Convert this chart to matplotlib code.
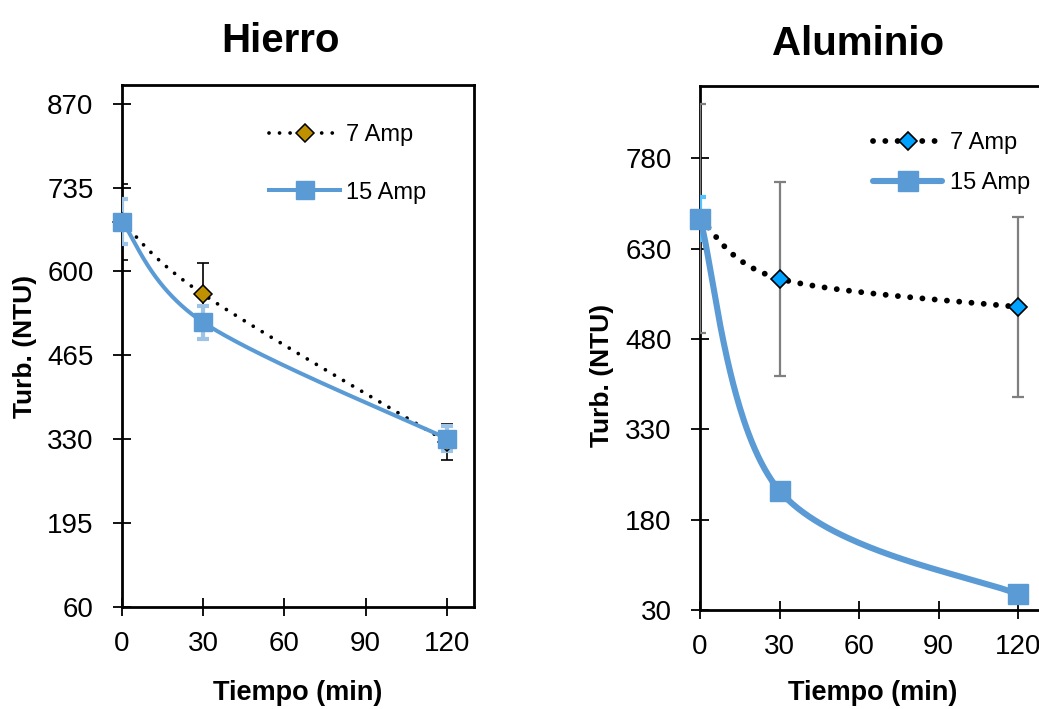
import numpy as np
import matplotlib
matplotlib.use("Agg")
import matplotlib.pyplot as plt
from matplotlib.lines import Line2D

# ---------------- data ----------------
time = [0, 30, 120]
x_ticks = [0, 30, 60, 90, 120]

fe_7 = [680, 563, 326]
fe_7_err = [61, 50, 29]
fe_15 = [680, 518, 331]
fe_15_err = [36, 27, 20]
fe_yticks = [60, 195, 330, 465, 600, 735, 870]

al_7 = [680, 580, 533]
al_7_err = [190, 161, 149]
al_15 = [680, 228, 56]
al_15_err = [36, 0, 0]
al_yticks = [30, 180, 330, 480, 630, 780]

labels = ["7 Amp", "15 Amp"]
titles = ["Hierro", "Aluminio"]
xlabel = "Tiempo (min)"
ylabel = "Turb. (NTU)"

# ---------------- style ----------------
plt.rcParams["font.family"] = ["Liberation Sans", "DejaVu Sans"]
BLUE = "#5B9BD5"

W, H = 1039, 709
fig = plt.figure(figsize=(W / 100, H / 100), dpi=100)


def px_axes(l, r, t, b):
    return fig.add_axes([l / W, 1 - b / H, (r - l) / W, (b - t) / H])


def smooth(ax, xs, ys, n=80):
    pts = ax.transData.transform(np.column_stack([xs, ys]))
    m = len(pts)
    out = []
    for i in range(m - 1):
        p0 = pts[max(i - 1, 0)]
        p1 = pts[i]
        p2 = pts[i + 1]
        p3 = pts[min(i + 2, m - 1)]
        c1 = p1 + (p2 - p0) / 6.0
        c2 = p2 - (p3 - p1) / 6.0
        t = np.linspace(0, 1, n)[:, None]
        seg = (1 - t) ** 3 * p1 + 3 * (1 - t) ** 2 * t * c1 + 3 * (1 - t) * t ** 2 * c2 + t ** 3 * p2
        out.append(seg if i == 0 else seg[1:])
    out = np.vstack(out)
    d = ax.transData.inverted().transform(out)
    return d[:, 0], d[:, 1]


def style_axes(ax, yticks, ylim):
    ax.set_xlim(0, 130)
    ax.set_ylim(*ylim)
    ax.set_xticks(x_ticks)
    ax.set_yticks(yticks)
    for s in ax.spines.values():
        s.set_linewidth(2.0)
        s.set_color("black")
    ax.tick_params(axis="both", direction="inout", length=13, width=1.3,
                   labelsize=20, colors="black")
    ax.tick_params(axis="y", pad=14)
    ax.tick_params(axis="x", pad=11)
    ax.tick_params(axis="x", top=False)
    ax.tick_params(axis="y", right=False)


def set_labels(ax, xc, yc):
    ax.set_xlabel(xlabel, fontsize=19.5, fontweight="bold")
    ax.xaxis.label.set_va("center")
    ax.xaxis.set_label_coords(0.5, xc)
    ax.set_ylabel(ylabel, fontsize=19, fontweight="bold")
    ax.yaxis.label.set_va("center")
    ax.yaxis.set_label_coords(*yc)


# ================= Hierro =================
ax1 = px_axes(122, 474, 85, 607)
style_axes(ax1, fe_yticks, (60, 900))

ax1.errorbar(time, fe_7, yerr=fe_7_err, fmt="none", ecolor="black",
             elinewidth=1.2, capsize=4.5, capthick=1.2, zorder=3)
ax1.errorbar(time, fe_15, yerr=fe_15_err, fmt="none", ecolor="#9DC3E6",
             elinewidth=3.0, capsize=4.5, capthick=3.0, zorder=3)

sx, sy = smooth(ax1, time, fe_7)
ax1.plot(sx, sy, color="black", lw=2.7, ls=(0, (0.01, 2.8)),
         dash_capstyle="round", zorder=4)
sx, sy = smooth(ax1, time, fe_15)
ax1.plot(sx, sy, color=BLUE, lw=2.9, solid_capstyle="round", zorder=4)
ax1.plot(time, fe_7, ls="none", marker="D", ms=9.5, mfc="#BF9000",
         mec="black", mew=1.1, zorder=6, clip_on=False)
ax1.plot(time, fe_15, ls="none", marker="s", ms=12.5, mfc=BLUE,
         mec=BLUE, zorder=6, clip_on=False)

h1 = [Line2D([], [], color="black", lw=2.7, ls=(0, (0.01, 2.8)),
             dash_capstyle="round", marker="D", ms=9.5, mfc="#BF9000",
             mec="black", mew=1.1),
      Line2D([], [], color=BLUE, lw=2.9, marker="s", ms=12.5, mfc=BLUE, mec=BLUE)]
ax1.legend(h1, labels, loc="upper left", bbox_to_anchor=(0.418, 0.925),
           frameon=False, fontsize=17, handlelength=3.0, handletextpad=0.25,
           labelspacing=1.5, borderpad=0, borderaxespad=0)

set_labels(ax1, -0.165, (-0.276, 0.5))

# ================= Aluminio =================
ax2 = px_axes(700, 1044.5, 86, 610)
style_axes(ax2, al_yticks, (30, 900))

ax2.errorbar(time, al_7, yerr=al_7_err, fmt="none", ecolor="#7F7F7F",
             elinewidth=1.6, capsize=4.5, capthick=1.6, zorder=3)
ax2.errorbar(time[:1], al_15[:1], yerr=al_15_err[:1], fmt="none",
             ecolor="#56C1FF", elinewidth=3.0, capsize=4.5, capthick=3.0,
             zorder=3)

sx, sy = smooth(ax2, time, al_7)
ax2.plot(sx, sy, color="black", lw=4.2, ls=(0, (0.01, 2.1)),
         dash_capstyle="round", zorder=4)
sx, sy = smooth(ax2, time, al_15)
ax2.plot(sx, sy, color=BLUE, lw=4.4, solid_capstyle="round", zorder=4)
ax2.plot(time, al_7, ls="none", marker="D", ms=9.5, mfc="#00A2FF",
         mec="black", mew=1.2, zorder=6, clip_on=False)
ax2.plot(time, al_15, ls="none", marker="s", ms=14.5, mfc=BLUE,
         mec=BLUE, zorder=6, clip_on=False)

h2 = [Line2D([], [], color="black", lw=4.2, ls=(0, (0.01, 2.1)),
             dash_capstyle="round", marker="D", ms=9.5, mfc="#00A2FF",
             mec="black", mew=1.2),
      Line2D([], [], color=BLUE, lw=4.4, solid_capstyle="round",
             marker="s", ms=14.5, mfc=BLUE, mec=BLUE)]
ax2.legend(h2, labels, loc="upper left", bbox_to_anchor=(0.503, 0.912),
           frameon=False, fontsize=17, handlelength=2.9, handletextpad=0.35,
           labelspacing=0.75, borderpad=0, borderaxespad=0)

set_labels(ax2, -0.158, (-0.284, 0.448))

# titles
fig.text(281 / W, 1 - 52 / H, titles[0], ha="center", va="baseline",
         fontsize=29, fontweight="bold")
fig.text(858 / W, 1 - 55 / H, titles[1], ha="center", va="baseline",
         fontsize=29, fontweight="bold")

fig.savefig("out.png", dpi=100)
